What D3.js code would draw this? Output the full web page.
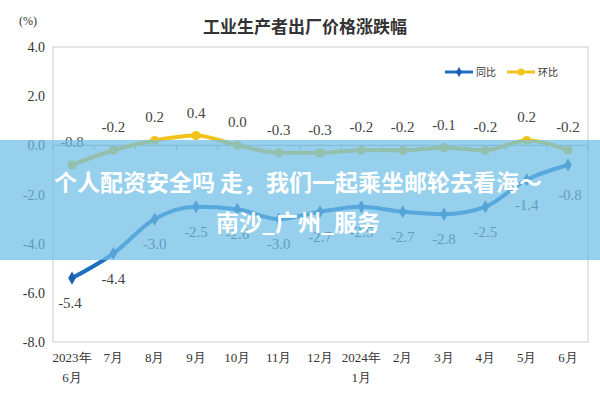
<!DOCTYPE html>
<html><head><meta charset="utf-8">
<script src="https://cdn.jsdelivr.net/npm/d3@7"></script>
<style>body{margin:0;background:#fff}</style>
</head><body><div id="container"></div>
<script>
const months = ["2023年\n6月","7月","8月","9月","10月","11月","12月","2024年\n1月","2月","3月","4月","5月","6月"]
const yoy = [-5.4,-4.4,-3.0,-2.5,-2.6,-3.0,-2.7,-2.5,-2.7,-2.8,-2.5,-1.4,-0.8]
const mom = [-0.8,-0.2,0.2,0.4,0.0,-0.3,-0.3,-0.2,-0.2,-0.1,-0.2,0.2,-0.2]
const yTicks = [4,2,0,-2,-4,-6,-8]

const width = 600, height = 400,
  margin = { top: 47, bottom: 58, left: 53, right: 12 }

const svg = d3.select("#container").append("svg")
  .attr("width", width).attr("height", height)

const xScale = d3.scalePoint().domain(d3.range(months.length))
  .range([72, 568])
const yScale = d3.scaleLinear().domain([-8, 4])
  .range([height - margin.bottom, margin.top])

const font = "'Liberation Serif', serif"

// plot frame
svg.append("rect")
  .attr("x", margin.left).attr("y", margin.top)
  .attr("width", width - margin.left - margin.right)
  .attr("height", height - margin.top - margin.bottom)
  .attr("fill", "none").attr("stroke", "#ccc")

// zero line with ticks
svg.append("line")
  .attr("x1", margin.left).attr("x2", width - margin.right)
  .attr("y1", yScale(0)).attr("y2", yScale(0))
  .attr("stroke", "#aaa")
d3.range(months.length + 1).forEach(i => {
  const x = margin.left + i * (width - margin.left - margin.right) / months.length
  svg.append("line").attr("x1", x).attr("x2", x)
    .attr("y1", yScale(0)).attr("y2", yScale(0) + 5).attr("stroke", "#aaa")
})

// y labels
svg.selectAll(".ylab").data(yTicks).join("text")
  .attr("x", 45).attr("y", d => yScale(d) + 5)
  .attr("text-anchor", "end").style("font", `14px ${font}`).attr("fill", "#333")
  .text(d => d.toFixed(1))

svg.append("text").attr("x", 28).attr("y", 25)
  .attr("text-anchor", "middle").style("font", `12px ${font}`).attr("fill", "#333").text("(%)")

svg.append("text").attr("x", 305).attr("y", 33)
  .attr("text-anchor", "middle").style("font", "bold 17px 'Noto Sans CJK SC'").attr("fill", "#333")
  .text("工业生产者出厂价格涨跌幅")

// x labels
months.forEach((m, i) => {
  m.split("\n").forEach((s, j) => {
    svg.append("text").attr("x", xScale(i)).attr("y", 362 + j * 20)
      .attr("text-anchor", "middle").style("font", `13px ${font}`).attr("fill", "#333").text(s)
  })
})

const lineGen = d3.line().x((d, i) => xScale(i)).y(d => yScale(d)).curve(d3.curveMonotoneX)

svg.append("path").datum(mom).attr("fill", "none").attr("stroke", "#f2c21a")
  .attr("stroke-width", 4).attr("d", lineGen)
svg.selectAll(".momp").data(mom).join("circle")
  .attr("cx", (d, i) => xScale(i)).attr("cy", d => yScale(d)).attr("r", 4.5).attr("fill", "#f2c21a")
svg.selectAll(".moml").data(mom).join("text")
  .attr("x", (d, i) => xScale(i)).attr("y", d => yScale(d) - 18)
  .attr("text-anchor", "middle").style("font", `15px ${font}`).attr("fill", "#444")
  .text(d => d.toFixed(1))

svg.append("path").datum(yoy).attr("fill", "none").attr("stroke", "#1f6fc0")
  .attr("stroke-width", 4).attr("d", lineGen)
svg.selectAll(".yoyp").data(yoy).join("path")
  .attr("transform", (d, i) => `translate(${xScale(i)},${yScale(d)})`)
  .attr("d", d3.symbol(d3.symbolDiamond, 50)).attr("fill", "#1a5fae")
svg.selectAll(".yoyl").data(yoy).join("text")
  .attr("x", (d, i) => xScale(i) + (i === 12 ? 2 : i === 0 ? -2 : 0))
  .attr("y", (d, i) => yScale(d) + (i === 12 ? 35 : 30))
  .attr("text-anchor", "middle").style("font", `15px ${font}`).attr("fill", "#444")
  .text(d => d.toFixed(1))

// legend
const lg = svg.append("g").attr("transform", "translate(445,72)")
lg.append("line").attr("x1", 0).attr("x2", 28).attr("stroke", "#1f6fc0").attr("stroke-width", 3)
lg.append("path").attr("transform", "translate(14,0)").attr("d", d3.symbol(d3.symbolDiamond, 30)).attr("fill", "#1a5fae")
lg.append("text").attr("x", 31).attr("y", 4).style("font", "10px 'Noto Sans CJK SC'").attr("fill", "#333").text("同比")
lg.append("line").attr("x1", 62).attr("x2", 90).attr("stroke", "#f2c21a").attr("stroke-width", 3)
lg.append("circle").attr("cx", 76).attr("r", 3.5).attr("fill", "#f2c21a")
lg.append("text").attr("x", 93).attr("y", 4).style("font", "10px 'Noto Sans CJK SC'").attr("fill", "#333").text("环比")

// overlay banner
svg.append("rect").attr("x", 0).attr("y", 140).attr("width", width).attr("height", 120)
  .attr("fill", "rgb(110,190,230)").attr("opacity", 0.72)
const banner = ["个人配资安全吗 走，我们一起乘坐邮轮去看海～", "南沙_广州_服务"]
banner.forEach((s, i) => {
  svg.append("text").attr("x", 298).attr("y", 191 + i * 40)
    .attr("text-anchor", "middle").style("font", "bold 23px 'Noto Sans CJK SC'").attr("fill", "#fff").text(s)
})
</script>
</body></html>
